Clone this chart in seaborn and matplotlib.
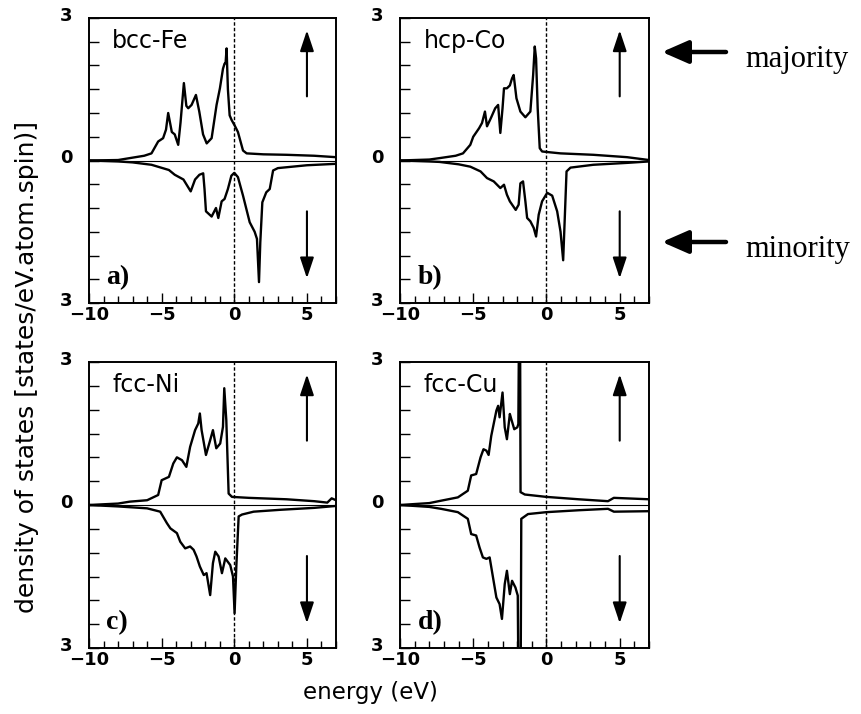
import matplotlib
matplotlib.use("Agg")
import matplotlib.pyplot as plt
import matplotlib.ticker as mticker
import matplotlib.transforms as mtransforms
import pandas as pd
import seaborn as sns

# ── Data ──────────────────────────────────────────────────────────────────────
fe_up_x = [-10, -8, -7.2, -6.2, -5.7, -5.24, -4.9, -4.7, -4.55, -4.3, -4.1, -3.86, -3.7,
           -3.47, -3.3, -3.17, -2.94, -2.64, -2.41, -2.15, -1.9, -1.56, -1.22, -0.99,
           -0.78, -0.67, -0.6, -0.53, -0.44, -0.32, -0.18, 0.02, 0.25, 0.6, 0.85, 2.0,
           3.6, 5.5, 7]
fe_up_y = [0, 0.01, 0.05, 0.1, 0.15, 0.4, 0.47, 0.65, 1.0, 0.6, 0.55, 0.33, 0.8,
           1.63, 1.15, 1.1, 1.17, 1.38, 1.03, 0.55, 0.36, 0.47, 1.17, 1.52,
           1.93, 2.04, 2.05, 2.36, 1.5, 0.95, 0.85, 0.74, 0.6, 0.21, 0.15, 0.13,
           0.12, 0.1, 0.07]
fe_dn_x = [-10, -8, -7, -5.7, -4.5, -4.1, -3.5, -3.2, -3.0, -2.7, -2.4, -2.14, -2.05,
           -1.95, -1.56, -1.26, -1.1, -0.87, -0.67, -0.44, -0.2, 0.0, 0.25, 0.6, 1.06,
           1.4, 1.56, 1.7, 1.79, 1.93, 2.2, 2.44, 2.67, 3.0, 5.0, 7]
fe_dn_y = [0, -0.02, -0.04, -0.09, -0.2, -0.3, -0.4, -0.55, -0.65, -0.4, -0.3, -0.27, -0.6,
           -1.07, -1.18, -1.0, -1.21, -0.86, -0.81, -0.6, -0.32, -0.26, -0.35, -0.74, -1.3,
           -1.5, -1.65, -2.56, -1.72, -0.88, -0.67, -0.6, -0.21, -0.16, -0.1, -0.07]

co_up_x = [-10, -8, -7.3, -6.2, -5.7, -5.2, -5.0, -4.6, -4.4, -4.2, -4.06, -3.8, -3.5,
           -3.3, -3.15, -3.0, -2.9, -2.7, -2.5, -2.35, -2.24, -2.05, -1.78, -1.44, -1.1,
           -0.91, -0.8, -0.71, -0.6, -0.46, -0.3, 0.0, 0.96, 3.2, 5.5, 7]
co_up_y = [0, 0.02, 0.05, 0.1, 0.15, 0.33, 0.5, 0.68, 0.79, 1.03, 0.72, 0.89, 1.1,
           1.17, 0.58, 1.1, 1.52, 1.52, 1.58, 1.73, 1.8, 1.31, 1.03, 0.91, 1.03,
           1.8, 2.4, 2.15, 1.1, 0.26, 0.19, 0.18, 0.15, 0.12, 0.07, 0.01]
co_dn_x = [-10, -8, -7.3, -6, -5.2, -4.5, -4.06, -3.6, -3.15, -2.9, -2.7, -2.5, -2.1,
           -1.9, -1.78, -1.6, -1.44, -1.32, -1.1, -0.87, -0.71, -0.53, -0.3, 0.05, 0.39,
           0.73, 0.96, 1.14, 1.3, 1.37, 1.64, 3.2, 5.5, 7]
co_dn_y = [0, -0.02, -0.03, -0.08, -0.13, -0.23, -0.37, -0.44, -0.58, -0.51, -0.72, -0.86, -1.04,
           -0.93, -0.48, -0.44, -0.86, -1.21, -1.28, -1.42, -1.6, -1.14, -0.86, -0.68, -0.74,
           -1.07, -1.5, -2.1, -0.8, -0.23, -0.15, -0.09, -0.05, -0.02]

ni_up_x = [-10, -8, -7.2, -6.0, -5.24, -5.0, -4.5, -4.2, -3.95, -3.6, -3.3, -3.04, -2.7,
           -2.48, -2.37, -2.25, -1.95, -1.66, -1.47, -1.24, -0.97, -0.78, -0.69, -0.55,
           -0.39, -0.16, 1.0, 3.6, 5.5, 6.4, 6.7, 7]
ni_up_y = [0, 0.03, 0.07, 0.1, 0.21, 0.52, 0.59, 0.87, 1.0, 0.94, 0.8, 1.22, 1.57,
           1.71, 1.92, 1.57, 1.05, 1.36, 1.57, 1.19, 1.29, 1.64, 2.45, 1.78,
           0.24, 0.17, 0.15, 0.12, 0.08, 0.05, 0.14, 0.1]
ni_dn_x = [-10, -8, -6.0, -5.1, -4.64, -4.4, -3.95, -3.72, -3.38, -3.04, -2.8, -2.6, -2.37,
           -2.1, -1.91, -1.66, -1.47, -1.31, -1.08, -0.85, -0.62, -0.28, -0.09, 0.02, 0.14,
           0.3, 0.53, 1.33, 3.2, 5.5, 7]
ni_dn_y = [0, -0.03, -0.07, -0.14, -0.38, -0.49, -0.59, -0.77, -0.91, -0.87, -0.94, -1.08, -1.29,
           -1.47, -1.43, -1.89, -1.22, -0.98, -1.08, -1.43, -1.12, -1.26, -1.5, -2.27, -1.29,
           -0.24, -0.2, -0.14, -0.1, -0.06, -0.02]

cu_up_x = [-10, -8, -7.2, -6.05, -5.37, -5.14, -4.8, -4.5, -4.3, -4.1, -3.95, -3.77, -3.42,
           -3.3, -3.2, -3.0, -2.85, -2.7, -2.5, -2.4, -2.2, -1.99, -1.92, -1.88, -1.80,
           -1.77, -1.48, 0.0, 2.2, 4.2, 4.6, 7]
cu_up_y = [0, 0.04, 0.09, 0.16, 0.3, 0.62, 0.65, 1.0, 1.17, 1.14, 1.05, 1.45, 1.98,
           2.08, 1.84, 2.36, 1.63, 1.38, 1.91, 1.8, 1.59, 1.63, 1.7, 3.5, 3.5,
           0.27, 0.22, 0.17, 0.12, 0.08, 0.15, 0.12]
cu_dn_x = [-10, -8, -7.2, -6.05, -5.37, -5.14, -4.8, -4.57, -4.34, -4.1, -3.88, -3.65, -3.42,
           -3.2, -3.04, -2.85, -2.7, -2.5, -2.35, -2.12, -1.96, -1.92, -1.76, -1.72, -1.26,
           0.0, 2.2, 4.2, 4.6, 7]
cu_dn_y = [0, -0.04, -0.08, -0.15, -0.29, -0.61, -0.64, -0.89, -1.1, -1.13, -1.1, -1.52, -1.94,
           -2.08, -2.39, -1.66, -1.38, -1.87, -1.59, -1.73, -1.9, -3.5, -3.5, -0.29, -0.19,
           -0.15, -0.11, -0.08, -0.14, -0.13]

metals = ["bcc-Fe", "hcp-Co", "fcc-Ni", "fcc-Cu"]
letters = ["a)", "b)", "c)", "d)"]
curves = [(fe_up_x, fe_up_y, fe_dn_x, fe_dn_y),
          (co_up_x, co_up_y, co_dn_x, co_dn_y),
          (ni_up_x, ni_up_y, ni_dn_x, ni_dn_y),
          (cu_up_x, cu_up_y, cu_dn_x, cu_dn_y)]

y_ticks = [-3, 0, 3]
y_tick_labels = ["3", "0", "3"]
x_ticks = [-10, -5, 0, 5]
x_tick_labels = ["\u221210", "\u22125", "0", "5"]

# ── Style ──────────────────────────────────────────────────────────────────────
sns.set_theme(style="ticks")
plt.rcParams["font.family"] = ["DejaVu Sans"]
plt.rcParams.update({"text.color": "black", "axes.labelcolor": "black",
                     "xtick.color": "black", "ytick.color": "black"})

W, H = 861, 714
fig = plt.figure(figsize=(W / 100, H / 100), dpi=100)
SERIF = ["Liberation Serif", "DejaVu Serif"]

# axes boxes in pixels: left, top, right, bottom
boxes = [(89, 18, 336, 303), (400, 18, 649, 303),
         (89, 362, 336, 648), (400, 362, 649, 648)]


def px_axes(l, t, r, b):
    return fig.add_axes([l / W, 1 - b / H, (r - l) / W, (b - t) / H])


arrow_kw = dict(arrowstyle="-|>,head_length=0.9,head_width=0.3", lw=1.5,
                color="black", mutation_scale=14, shrinkA=0, shrinkB=0)

for box, name, lett, (ux, uy, dx, dy) in zip(boxes, metals, letters, curves):
    ax = px_axes(*box)
    df = pd.concat([
        pd.DataFrame({"energy": ux, "dos": uy, "spin": "up"}),
        pd.DataFrame({"energy": dx, "dos": dy, "spin": "down"}),
    ])
    sns.lineplot(data=df, x="energy", y="dos", units="spin", estimator=None,
                 sort=False, color="black", lw=1.7, ax=ax, legend=False)
    ax.axhline(0, color="black", lw=0.8)
    ax.axvline(0, color="black", lw=1.0, ls=(0, (2.5, 1.5)))

    ax.set_xlim(-10, 7)
    ax.set_ylim(-3, 3)
    ax.set_xlabel("")
    ax.set_ylabel("")
    for sp in ax.spines.values():
        sp.set_visible(True)
        sp.set_linewidth(1.4)
        sp.set_color("black")

    ax.yaxis.set_major_locator(mticker.FixedLocator(y_ticks))
    ax.yaxis.set_major_formatter(mticker.FixedFormatter(y_tick_labels))
    ax.yaxis.set_minor_locator(mticker.MultipleLocator(0.5))
    ax.xaxis.set_major_locator(mticker.FixedLocator(x_ticks))
    ax.xaxis.set_major_formatter(mticker.FixedFormatter(x_tick_labels))
    ax.xaxis.set_minor_locator(mticker.MultipleLocator(1))
    ax.tick_params(which="both", direction="in", top=False, right=False,
                   color="black", width=1.0)
    ax.tick_params(axis="y", which="both", length=7, labelsize=13, pad=12)
    ax.tick_params(axis="x", which="major", length=7, labelsize=13, pad=2)
    ax.tick_params(axis="x", which="minor", length=5)
    up = mtransforms.ScaledTranslation(0, 3 / 72, fig.dpi_scale_trans)
    for tick in ax.yaxis.get_major_ticks():
        tick.label1.set_transform(tick.label1.get_transform() + up)
    for lab in ax.get_xticklabels() + ax.get_yticklabels():
        lab.set_fontweight("bold")

    ax.text(-8.4, 2.77, name, fontsize=17, va="top", ha="left")
    ax.text(-8.8, -2.73, lett, fontsize=20, fontweight="bold", va="bottom", ha="left",
            family=SERIF)

    ax.annotate("", xy=(5, 2.74), xytext=(5, 1.35), arrowprops=arrow_kw)
    ax.annotate("", xy=(5, -2.48), xytext=(5, -1.07), arrowprops=arrow_kw)

# majority / minority pointers on the right
for label, ypx, base in [("majority", 52, 67), ("minority", 242, 257)]:
    fig.axes[0].annotate("", xy=(662 / W, 1 - ypx / H), xytext=(726 / W, 1 - ypx / H),
                         xycoords="figure fraction", textcoords="figure fraction",
                         arrowprops=dict(arrowstyle="-|>,head_length=0.8,head_width=0.35",
                                         lw=3.2, color="black", mutation_scale=20,
                                         shrinkA=0, shrinkB=0),
                         annotation_clip=False)
    fig.text(745 / W, 1 - base / H, label, fontsize=22, va="baseline", ha="left",
             family=SERIF)

fig.text(370 / W, 1 - 692 / H, "energy (eV)", fontsize=16.5, ha="center", va="center")
fig.text(27 / W, 1 - 367 / H, "density of states [states/eV.atom.spin)]", fontsize=18,
         rotation=90, ha="center", va="center")

fig.savefig("out.png", dpi=100)
